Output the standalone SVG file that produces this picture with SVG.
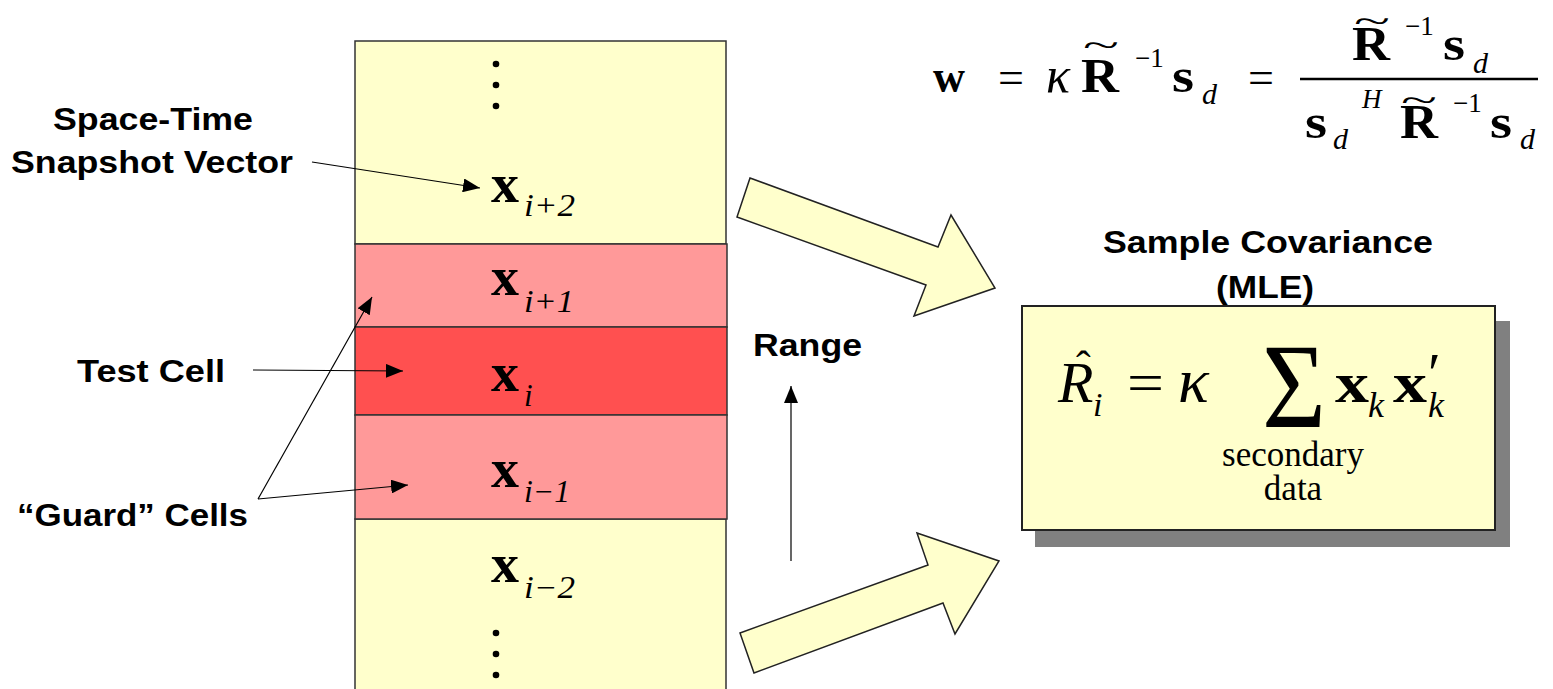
<svg xmlns="http://www.w3.org/2000/svg" width="1553" height="689" viewBox="0 0 1553 689">
<defs>
<style>
.lbl{font-family:"Liberation Sans",Arial,sans-serif;font-weight:bold;font-size:32px;fill:#000}
.m{font-family:"Liberation Serif","Times New Roman",serif;fill:#000}
.b{font-weight:bold}
.i{font-style:italic}
.cell{stroke:#333;stroke-width:1.5}
.y{fill:#FFFFCC}
.p{fill:#FF9999}
.r{fill:#FF5050}
.conn{stroke:#000;stroke-width:1.2;fill:none;marker-end:url(#ah)}
.big{fill:#FFFFCC;stroke:#222;stroke-width:1.5;stroke-linejoin:miter}
</style>
<marker id="ah" viewBox="0 0 17 14" refX="17" refY="7" markerWidth="17" markerHeight="14" markerUnits="userSpaceOnUse" orient="auto">
<path d="M0,0 L17,7 L0,14 z" fill="#000"/>
</marker>
</defs>
<rect width="1553" height="689" fill="#fff"/>

<g id="column">
<rect class="cell y" x="355" y="41" width="371" height="203"/>
<rect class="cell y" x="355" y="519" width="371" height="180"/>
<circle cx="496" cy="64" r="3.3"/><circle cx="496" cy="85" r="3.3"/><circle cx="496" cy="106" r="3.3"/>
<circle cx="496" cy="633" r="3.3"/><circle cx="496" cy="654" r="3.3"/><circle cx="496" cy="675" r="3.3"/>
</g>
<g id="cell-i2">
<text class="m b" x="491" y="202" font-size="54" textLength="28" lengthAdjust="spacingAndGlyphs">x</text>
<text class="m i" x="524" y="216" font-size="31" textLength="51" lengthAdjust="spacingAndGlyphs">i+2</text>
</g>
<g id="cell-i1">
<rect class="cell p" x="355" y="244" width="372" height="83"/>
<text class="m b" x="491" y="295" font-size="54" textLength="28" lengthAdjust="spacingAndGlyphs">x</text>
<text class="m i" x="524" y="312" font-size="31" textLength="50" lengthAdjust="spacingAndGlyphs">i+1</text>
</g>
<g id="cell-i">
<rect class="cell r" x="355" y="327" width="372" height="88"/>
<text class="m b" x="491" y="391" font-size="54" textLength="28" lengthAdjust="spacingAndGlyphs">x</text>
<text class="m i" x="524" y="406" font-size="31">i</text>
</g>
<g id="cell-im1">
<rect class="cell p" x="355" y="415" width="372" height="104"/>
<text class="m b" x="491" y="487" font-size="54" textLength="28" lengthAdjust="spacingAndGlyphs">x</text>
<text class="m i" x="524" y="502" font-size="31" textLength="46" lengthAdjust="spacingAndGlyphs">i−1</text>
</g>
<g id="cell-im2">
<text class="m b" x="491" y="582" font-size="54" textLength="28" lengthAdjust="spacingAndGlyphs">x</text>
<text class="m i" x="524" y="598" font-size="31" textLength="51" lengthAdjust="spacingAndGlyphs">i−2</text>
</g>

<g id="label-snapshot">
<text class="lbl" x="53" y="130" textLength="200" lengthAdjust="spacingAndGlyphs">Space-Time</text>
<text class="lbl" x="11" y="173" textLength="282" lengthAdjust="spacingAndGlyphs">Snapshot Vector</text>
</g>
<g id="label-test">
<text class="lbl" x="77" y="382" textLength="148" lengthAdjust="spacingAndGlyphs">Test Cell</text>
</g>
<g id="label-guard">
<text class="lbl" x="17" y="526" textLength="231" lengthAdjust="spacingAndGlyphs">“Guard” Cells</text>
</g>
<g id="label-range">
<text class="lbl" x="753" y="356" font-size="30" textLength="109" lengthAdjust="spacingAndGlyphs">Range</text>
</g>

<g id="connectors">
<line class="conn" x1="312" y1="162" x2="480" y2="188"/>
<line class="conn" x1="253" y1="370" x2="403" y2="371"/>
<line class="conn" x1="258" y1="499" x2="372" y2="297"/>
<line class="conn" x1="258" y1="499" x2="408" y2="485"/>
<line class="conn" x1="791" y1="561" x2="791" y2="386"/>
<polygon class="big" points="750,178 938,247 951,215 995,288 914,316 926,285 737,217"/>
<polygon class="big" points="740,633 928,565 917,533 999,561 955,634 943,603 754,673"/>
</g>

<g id="weight-formula">
<text class="m b" x="933" y="92" font-size="46" textLength="32" lengthAdjust="spacingAndGlyphs">w</text>
<text class="m" x="998" y="93" font-size="46">=</text>
<text class="m i" x="1046" y="92" font-size="50">κ</text>
<text class="m" x="1083" y="56" font-size="34" textLength="36" lengthAdjust="spacingAndGlyphs">~</text>
<text class="m b" x="1081" y="92" font-size="48" textLength="38" lengthAdjust="spacingAndGlyphs">R</text>
<text class="m" x="1135" y="67" font-size="27">−1</text>
<text class="m b" x="1172" y="92" font-size="48" textLength="22" lengthAdjust="spacingAndGlyphs">s</text>
<text class="m i" x="1202" y="104" font-size="30">d</text>
<text class="m" x="1248" y="93" font-size="46">=</text>
<line x1="1300" y1="79" x2="1538" y2="79" stroke="#000" stroke-width="2.5"/>
<text class="m" x="1354" y="32" font-size="34" textLength="36" lengthAdjust="spacingAndGlyphs">~</text>
<text class="m b" x="1352" y="60" font-size="48" textLength="38" lengthAdjust="spacingAndGlyphs">R</text>
<text class="m" x="1405" y="35" font-size="27">−1</text>
<text class="m b" x="1443" y="60" font-size="48" textLength="22" lengthAdjust="spacingAndGlyphs">s</text>
<text class="m i" x="1473" y="73" font-size="30">d</text>
<text class="m b" x="1305" y="138" font-size="48" textLength="22" lengthAdjust="spacingAndGlyphs">s</text>
<text class="m i" x="1333" y="149" font-size="30">d</text>
<text class="m i" x="1362" y="108" font-size="27">H</text>
<text class="m" x="1401" y="111" font-size="34" textLength="36" lengthAdjust="spacingAndGlyphs">~</text>
<text class="m b" x="1400" y="138" font-size="48" textLength="38" lengthAdjust="spacingAndGlyphs">R</text>
<text class="m" x="1453" y="112" font-size="27">−1</text>
<text class="m b" x="1490" y="138" font-size="48" textLength="22" lengthAdjust="spacingAndGlyphs">s</text>
<text class="m i" x="1520" y="149" font-size="30">d</text>
</g>

<g id="covariance">
<text class="lbl" x="1103" y="253" font-size="28" textLength="330" lengthAdjust="spacingAndGlyphs">Sample Covariance</text>
<text class="lbl" x="1216" y="298" font-size="28" textLength="98" lengthAdjust="spacingAndGlyphs">(MLE)</text>
<rect x="1035" y="321" width="475" height="226" fill="#808080"/>
<rect x="1022" y="306" width="473" height="224" fill="#FFFFCC" stroke="#222" stroke-width="2"/>
<text class="m" x="1076" y="381" font-size="44">ˆ</text>
<text class="m i" x="1058" y="402" font-size="58">R</text>
<text class="m i" x="1093" y="416" font-size="34">i</text>
<text class="m" x="1127" y="402" font-size="58" textLength="37" lengthAdjust="spacingAndGlyphs">=</text>
<text class="m i" x="1178" y="402" font-size="64">κ</text>
<text class="m" x="1262" y="427" font-size="120" textLength="64" lengthAdjust="spacingAndGlyphs">Σ</text>
<text class="m b" x="1335" y="402" font-size="56" textLength="34" lengthAdjust="spacingAndGlyphs">x</text>
<text class="m i" x="1368" y="417" font-size="36">k</text>
<text class="m b" x="1393" y="402" font-size="56" textLength="34" lengthAdjust="spacingAndGlyphs">x</text>
<text class="m" x="1428" y="393" font-size="58">′</text>
<text class="m i" x="1428" y="417" font-size="36">k</text>
<text class="m" x="1293" y="466" font-size="35" text-anchor="middle">secondary</text>
<text class="m" x="1293" y="500" font-size="35" text-anchor="middle">data</text>
</g>
</svg>
